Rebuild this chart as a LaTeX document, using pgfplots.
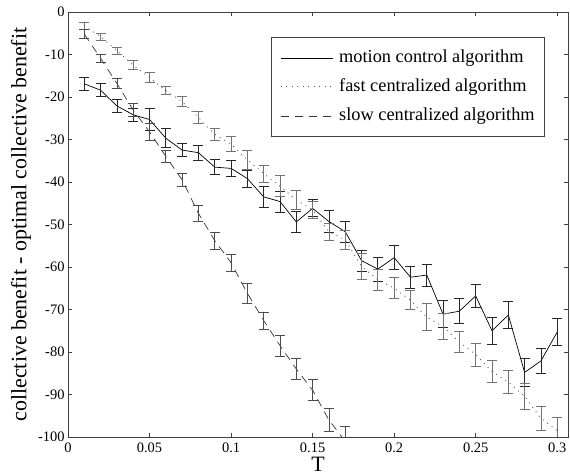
\documentclass[border=0pt]{standalone}
\usepackage{fontspec}
\setmainfont{Liberation Serif}
\usepackage{pgfplots}
\pgfplotsset{compat=1.18}

\begin{document}
\begin{tikzpicture}
\begin{axis}[
    name=ax,
    scale only axis,
    width=500bp, height=425bp,
    xmin=0, xmax=0.3066,
    ymin=-100, ymax=0,
    xtick={0,0.05,0.1,0.15,0.2,0.25,0.3},
    xticklabels={0,0.05,0.1,0.15,0.2,0.25,0.3},
    ytick={-100,-90,-80,-70,-60,-50,-40,-30,-20,-10,0},
    yticklabels={-100,-90,-80,-70,-60,-50,-40,-30,-20,-10,0},
    tick align=inside,
    major tick length=4bp,
    axis line style={black!75, line width=0.6bp},
    tick style={black!75, line width=0.6bp},
    ticklabel style={font=\fontsize{14.5}{17}\selectfont},
    xticklabel style={yshift=-2bp},
    xlabel={T},
    ylabel={collective benefit - optimal collective benefit},
    label style={font=\fontsize{22}{26}\selectfont},
    xlabel style={at={(axis description cs:0.5,-0.082)}, anchor=base},
    ylabel style={at={(axis description cs:-0.094,0.5)}, anchor=center},
    legend style={
        at={(axis description cs:0.406,0.941)}, anchor=north west,
        draw=black!75, line width=0.6bp,
        font=\fontsize{18.4}{22}\selectfont,
        inner xsep=9bp, inner ysep=11bp,
        row sep=10bp, column sep=5bp,
        nodes={inner sep=1bp, text height=13bp, text depth=4bp},
        cells={anchor=west},
    },
    legend image code/.code={\draw[#1] (0bp,0bp) -- (52bp,0bp);},
    errcol/.style={
        error bars/error bar style={solid, line width=0.8bp, #1},
        error bars/error mark options={rotate=90, solid, mark size=5bp, line width=0.8bp, #1},
    },
]

% motion control algorithm: T, value, error
\addplot[black, line width=0.7bp, errcol=black!85,
    error bars/.cd, y dir=both, y explicit]
table[y error index=2] {
0.01 -16.9 1.5
0.02 -18.4 1.5
0.03 -22.1 1.5
0.04 -24.2 1.5
0.05 -25.3 2.5
0.06 -29.7 2.2
0.07 -32.5 1.5
0.08 -33.1 1.8
0.09 -36.5 1.8
0.10 -36.8 1.8
0.11 -39.2 2.0
0.12 -43.5 2.5
0.13 -44.6 2.5
0.14 -49.4 2.5
0.15 -46.2 2.0
0.16 -49.3 2.5
0.17 -51.7 2.5
0.18 -58.5 2.5
0.19 -60.5 2.8
0.20 -57.8 2.8
0.21 -62.4 2.6
0.22 -61.9 2.6
0.23 -71.1 3.2
0.24 -70.4 2.9
0.25 -66.8 2.6
0.26 -75.0 3.1
0.27 -71.3 3.1
0.28 -84.8 3.3
0.29 -82.1 3.0
0.30 -75.3 3.1
};
\addlegendentry{motion control algorithm}

% fast centralized algorithm
\addplot[black!65, line width=0.9bp, dash pattern=on 0.9bp off 4.6bp, errcol=black!55,
    error bars/.cd, y dir=both, y explicit]
table[y error index=2] {
0.01 -3.2 0.8
0.02 -5.8 0.8
0.03 -9.1 0.8
0.04 -12.5 1.0
0.05 -15.4 1.2
0.06 -18.5 1.0
0.07 -21.1 1.2
0.08 -24.8 1.5
0.09 -28.8 1.5
0.10 -31.1 1.8
0.11 -34.8 2.2
0.12 -38.0 2.0
0.13 -41.0 2.5
0.14 -44.2 2.2
0.15 -46.6 2.0
0.16 -51.7 2.0
0.17 -53.6 2.3
0.18 -59.9 3.0
0.19 -63.0 2.5
0.20 -65.0 2.5
0.21 -67.8 2.2
0.22 -71.8 3.2
0.23 -74.0 3.0
0.24 -77.7 2.5
0.25 -80.6 2.7
0.26 -84.6 2.6
0.27 -87.1 2.7
0.28 -90.4 3.0
0.29 -95.6 2.8
0.30 -98.5 3.0
};
\addlegendentry{fast centralized algorithm}

% slow centralized algorithm
\addplot[black!80, line width=0.7bp, dash pattern=on 8bp off 6bp, errcol=black!70,
    error bars/.cd, y dir=both, y explicit]
table[y error index=2] {
0.01 -5.2 1.0
0.02 -10.9 1.0
0.03 -16.8 1.2
0.04 -23.1 1.5
0.05 -28.2 2.0
0.06 -34.0 1.5
0.07 -39.5 1.5
0.08 -47.4 1.8
0.09 -53.8 2.0
0.10 -59.0 2.0
0.11 -66.2 2.3
0.12 -72.6 2.0
0.13 -78.5 2.5
0.14 -84.0 2.5
0.15 -89.0 2.5
0.16 -96.0 2.7
0.17 -101.0 3.5
};
\addlegendentry{slow centralized algorithm}
\end{axis}
\pgfresetboundingbox
\path[use as bounding box] ([xshift=-68bp,yshift=-39bp]ax.south west) rectangle ([xshift=2bp,yshift=12bp]ax.north east);
\end{tikzpicture}
\end{document}
